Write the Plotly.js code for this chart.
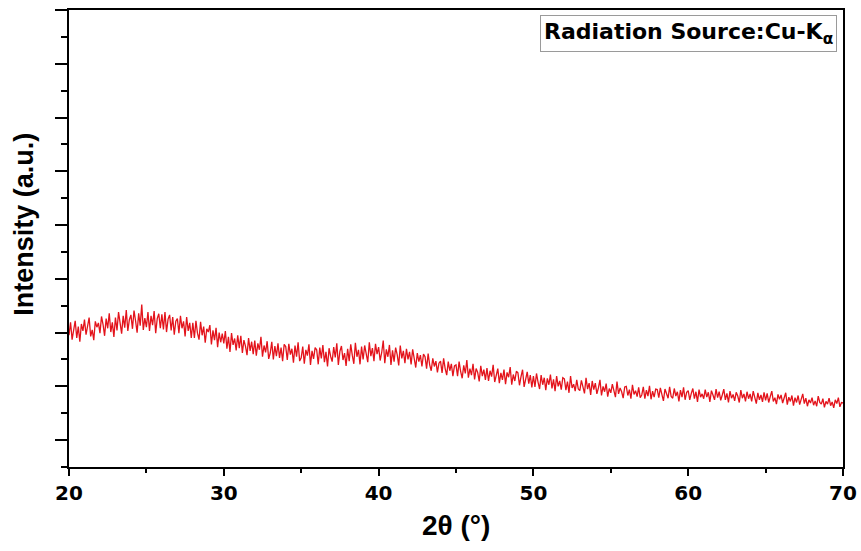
<!DOCTYPE html>
<html>
<head>
<meta charset="utf-8">
<script src="https://cdn.plot.ly/plotly-3.0.1.min.js"></script>
<style>html,body{margin:0;padding:0;background:#fff;}</style>
</head>
<body>
<div id="chart" style="width:861px;height:551px;"></div>
<script>
// 2θ scan: start angle and step (degrees)
const twoThetaStart = 20;
const twoThetaStep = 0.1;
// Intensity (a.u.), one value per 0.1° from 20° to 70°
const intensity = [
195,219,187,208,222,190,211,183,216,203,
224,196,212,228,193,205,186,221,210,218,
199,230,215,194,226,208,236,201,219,192,
228,204,238,216,198,231,209,242,203,224,
233,207,241,222,200,236,213,252,205,227,
210,238,203,231,214,240,199,226,235,208,
234,206,238,201,225,233,204,229,196,221,
226,199,231,208,221,193,229,203,218,190,
218,190,222,199,187,220,195,211,181,207,
201,214,178,204,186,209,173,200,182,198,
180,203,170,192,164,199,177,189,167,195,
171,194,162,186,175,158,190,166,183,160,
185,157,180,168,192,155,176,163,184,151,
162,183,150,175,156,180,153,172,147,178,
174,149,179,159,170,144,176,155,182,147,
153,174,142,168,157,178,140,166,151,172,
168,141,172,152,177,145,164,137,171,156,
146,173,154,180,140,165,175,149,162,138,
170,147,178,158,142,181,155,168,141,174,
150,176,163,145,182,156,171,147,179,160,
173,148,163,185,143,169,155,177,140,167,
146,172,159,139,176,152,166,143,170,150,
164,141,169,150,135,162,146,158,137,160,
155,133,161,140,129,152,137,147,126,143,
147,125,152,133,121,146,129,142,119,138,
140,119,146,128,115,139,124,149,116,133,
121,142,113,133,126,109,138,119,131,112,
134,110,129,118,140,108,123,133,106,125,
112,131,104,126,117,136,103,122,110,128,
125,102,118,131,99,114,127,105,121,98,
119,99,124,108,95,121,103,116,93,115,
103,122,96,113,91,119,100,110,94,116,
114,93,109,88,119,97,104,91,112,95,
92,111,98,87,116,95,106,84,110,94,
106,86,97,112,83,100,90,105,81,96,
88,104,92,80,109,86,97,90,78,99,
100,83,94,77,103,85,92,81,98,79,
84,99,77,93,82,101,76,91,80,95,
94,79,97,83,73,95,86,78,99,81,
78,96,82,90,72,93,80,98,75,89,
92,75,87,96,77,90,71,94,80,86,
77,94,80,89,71,92,84,75,95,79,
90,74,84,95,75,87,70,91,78,85,
73,89,82,70,93,78,86,72,90,77,
86,72,91,78,68,88,75,84,71,89,
74,87,70,81,91,72,79,67,85,76,
84,69,77,88,66,80,72,83,64,79,
70,83,66,76,86,68,78,63,75,69,
79,65,73,63,82,70,67,77,61,72,
67,78,64,71,60,75,68,79,62,70,
69
];
const xTickVals = [20, 30, 40, 50, 60, 70];
const xTickText = ['20', '30', '40', '50', '60', '70'];
const xTitle = '2θ (°)';
const yTitle = 'Intensity (a.u.)';
const legendText = 'Radiation Source:Cu-K<sub>α</sub>';

const trace = {
  type: 'scatter',
  mode: 'lines',
  x0: twoThetaStart,
  dx: twoThetaStep,
  y: intensity,
  line: {color: '#e3131b', width: 1.3},
  hoverinfo: 'skip',
  showlegend: false
};

const layout = {
  width: 861,
  height: 551,
  margin: {l: 69, r: 18, t: 10, b: 84},
  paper_bgcolor: '#ffffff',
  plot_bgcolor: '#ffffff',
  showlegend: false,
  xaxis: {
    range: [20, 70],
    tickmode: 'array',
    tickvals: xTickVals,
    ticktext: xTickText,
    ticks: 'outside',
    ticklen: 7,
    tickwidth: 2,
    tickcolor: '#000',
    minor: {dtick: 5, ticks: 'outside', ticklen: 4, tickwidth: 2, tickcolor: '#000', showgrid: false},
    showgrid: false,
    zeroline: false,
    showline: true,
    linewidth: 2,
    linecolor: '#000',
    mirror: true,
    tickfont: {family: 'DejaVu Sans', size: 20, color: '#000', weight: 'bold'},
    automargin: false
  },
  yaxis: {
    range: [-50, 800],
    dtick: 100,
    tick0: 0,
    ticks: 'outside',
    ticklen: 12,
    tickwidth: 2,
    tickcolor: '#000',
    minor: {dtick: 50, ticks: 'outside', ticklen: 6, tickwidth: 2, tickcolor: '#000', showgrid: false},
    showticklabels: false,
    showgrid: false,
    zeroline: false,
    showline: true,
    linewidth: 2,
    linecolor: '#000',
    mirror: true,
    automargin: false
  },
  annotations: [
    {
      text: xTitle, xref: 'paper', yref: 'paper', x: 0.5, y: -0.127,
      xanchor: 'center', yanchor: 'middle', showarrow: false,
      font: {family: 'Liberation Sans', size: 28, color: '#000', weight: 'bold'}
    },
    {
      text: yTitle, xref: 'paper', yref: 'paper', x: 0, xshift: -45, y: 0.53,
      xanchor: 'center', yanchor: 'middle', textangle: -90, showarrow: false,
      font: {family: 'Liberation Sans', size: 27, color: '#000', weight: 'bold'}
    },
    {
      text: legendText, xref: 'paper', yref: 'paper', x: 0.992, y: 0.99,
      xanchor: 'right', yanchor: 'top', showarrow: false,
      bordercolor: '#9a9a9a', borderwidth: 1, borderpad: 3, bgcolor: '#ffffff',
      font: {family: 'DejaVu Sans', size: 22, color: '#000', weight: 'bold'}
    }
  ]
};

Plotly.newPlot('chart', [trace], layout, {displayModeBar: false, staticPlot: true});
</script>
</body>
</html>
